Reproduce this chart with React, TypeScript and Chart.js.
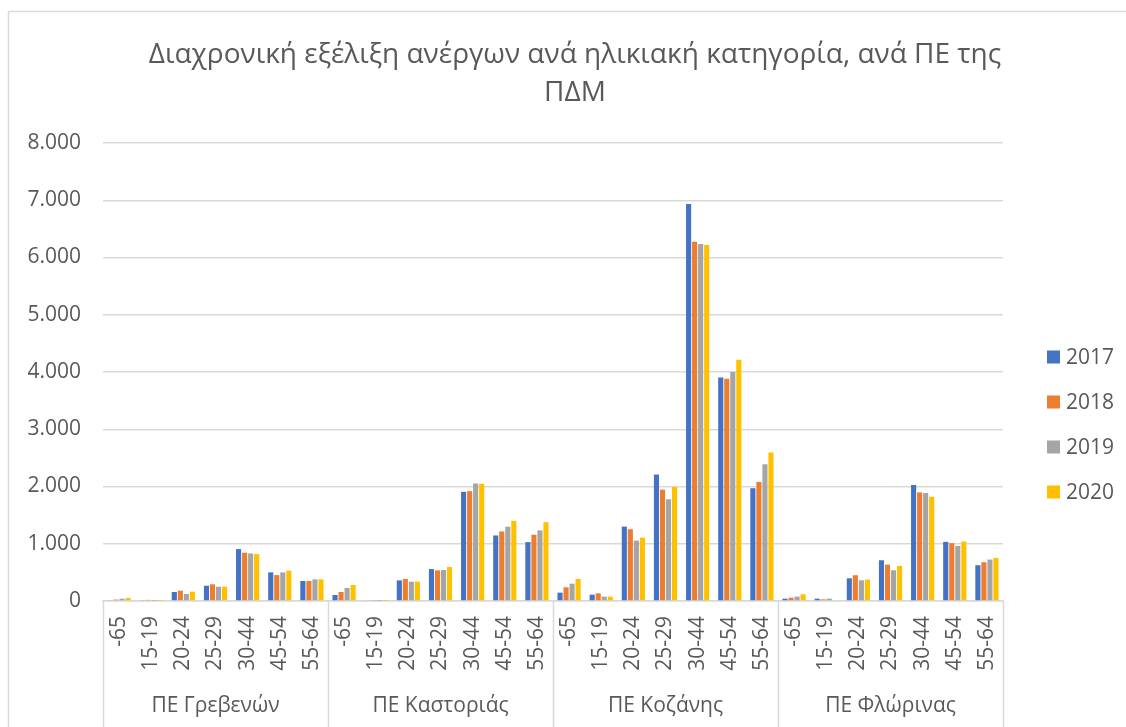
import React, { useEffect, useRef } from "react";
import { Chart, registerables } from "chart.js";

Chart.register(...registerables);

const TITLE_LINES = ["Διαχρονική εξέλιξη ανέργων ανά ηλικιακή κατηγορία, ανά ΠΕ της", "ΠΔΜ"];
const REGIONS = ["ΠΕ Γρεβενών", "ΠΕ Καστοριάς", "ΠΕ Κοζάνης", "ΠΕ Φλώρινας"];
const AGES = ["-65", "15-19", "20-24", "25-29", "30-44", "45-54", "55-64"];
const YEARS = ["2017", "2018", "2019", "2020"];
const COLORS = ["#4472C4", "#ED7D31", "#A5A5A5", "#FFC000"];

// values per year, in order: Γρεβενών, Καστοριάς, Κοζάνης, Φλώρινας (7 age groups each)
const V2017 = [
  15, 15, 157, 267, 907, 500, 349,
  105, 12, 360, 558, 1907, 1145, 1029,
  146, 111, 1300, 2209, 6935, 3904, 1970,
  41, 41, 397, 712, 2026, 1033, 625,
];
const V2018 = [
  25, 20, 180, 291, 843, 453, 349,
  157, 17, 384, 535, 1919, 1215, 1157,
  239, 134, 1253, 1946, 6276, 3881, 2080,
  58, 29, 450, 636, 1897, 1010, 677,
];
const V2019 = [
  40, 5, 122, 250, 831, 500, 378,
  227, 3, 337, 541, 2052, 1297, 1233,
  303, 76, 1055, 1777, 6235, 3998, 2389,
  76, 41, 362, 537, 1886, 963, 724,
];
const V2020 = [
  55, 5, 163, 250, 820, 529, 378,
  279, 3, 337, 593, 2047, 1401, 1378,
  385, 76, 1107, 1993, 6218, 4213, 2593,
  117, 12, 374, 613, 1821, 1039, 753,
];
const SERIES = [V2017, V2018, V2019, V2020];

const Y_MAX = 8000;
const Y_STEP = 1000;

const FONT = "'Open Sans', 'Noto Sans', sans-serif";
const TEXT = "#595959";
const GRID = "#d9d9d9";

function fmt(v: number): string {
  return String(Math.round(v)).replace(/\B(?=(\d{3})+(?!\d))/g, ".");
}

const decorPlugin = {
  id: "decor",
  afterDraw(chart: any) {
    const { ctx, chartArea } = chart;
    const x = chart.scales.x;
    const n = AGES.length;
    const total = REGIONS.length * n;
    const half = (x.getPixelForTick(1) - x.getPixelForTick(0)) / 2;
    ctx.save();
    // outer chart border (top & left)
    ctx.strokeStyle = GRID;
    ctx.lineWidth = 1.5;
    ctx.beginPath();
    ctx.moveTo(8.5, chart.height);
    ctx.lineTo(8.5, 11.5);
    ctx.lineTo(chart.width, 11.5);
    ctx.stroke();
    // group separators
    ctx.beginPath();
    for (let g = 0; g <= REGIONS.length; g++) {
      const px = g < REGIONS.length ? x.getPixelForTick(g * n) - half : x.getPixelForTick(total - 1) + half;
      const xx = Math.round(px) + 0.5;
      ctx.moveTo(xx, chartArea.bottom);
      ctx.lineTo(xx, chart.height);
    }
    ctx.stroke();
    // group labels
    ctx.fillStyle = TEXT;
    ctx.font = `21px ${FONT}`;
    ctx.textAlign = "center";
    ctx.textBaseline = "middle";
    REGIONS.forEach((r, g) => {
      const a = x.getPixelForTick(g * n) - half;
      const b = x.getPixelForTick(g * n + n - 1) + half;
      ctx.fillText(r, (a + b) / 2, 706);
    });
    // legend
    const ds = chart.data.datasets;
    ctx.textAlign = "left";
    ds.forEach((d: any, i: number) => {
      const cy = 357 + i * 45;
      ctx.fillStyle = d.backgroundColor;
      ctx.fillRect(1047, cy - 6.5, 13, 13);
      ctx.fillStyle = TEXT;
      ctx.fillText(d.label, 1066, cy + 1);
    });
    ctx.restore();
  },
};

export default function App() {
  const ref = useRef<HTMLCanvasElement | null>(null);
  useEffect(() => {
    if (!ref.current) return;
    const labels: string[] = [];
    REGIONS.forEach(() => AGES.forEach((a) => labels.push(a)));
    const chart = new Chart(ref.current, {
      type: "bar",
      data: {
        labels,
        datasets: YEARS.map((y, i) => ({
          label: y,
          data: SERIES[i],
          backgroundColor: COLORS[i],
          borderWidth: 0,
          categoryPercentage: 0.75,
          barPercentage: 0.85,
        })),
      },
      options: {
        responsive: false,
        animation: false,
        layout: { padding: { left: 24, right: 0, top: 0, bottom: 0 } },
        plugins: {
          legend: { display: false },
          tooltip: { enabled: false },
          title: {
            display: true,
            text: TITLE_LINES,
            color: TEXT,
            font: { family: FONT, size: 28, weight: "normal", lineHeight: 1.35 },
            padding: { top: 36.6, bottom: 30.8 },
          },
        },
        scales: {
          x: {
            grid: { display: false, drawTicks: false },
            border: { display: true, color: GRID, width: 1.5 },
            ticks: {
              autoSkip: false,
              maxRotation: 90,
              minRotation: 90,
              padding: 15,
              color: TEXT,
              font: { family: FONT, size: 21 },
            },
            afterFit: (s: any) => {
              s.height = 126;
            },
          },
          y: {
            min: 0,
            max: Y_MAX,
            grid: { color: GRID, lineWidth: 1.5, drawTicks: false },
            border: { display: false },
            ticks: {
              stepSize: Y_STEP,
              padding: 22,
              color: TEXT,
              font: { family: FONT, size: 21 },
              callback: (v: any) => fmt(Number(v)),
            },
            afterFit: (s: any) => {
              s.width = 79;
            },
          },
          yRight: {
            position: "right",
            min: 0,
            max: Y_MAX,
            grid: { display: false, drawTicks: false },
            border: { display: false },
            ticks: { display: false },
            afterFit: (s: any) => {
              s.width = 123;
            },
          },
        },
      },
      plugins: [decorPlugin],
    });
    return () => chart.destroy();
  }, []);
  return (
    <div style={{ position: "absolute", left: 0, top: 0, width: 1126, height: 727, background: "#fff" }}>
      <canvas ref={ref} width={1126} height={727} style={{ display: "block" }} />
    </div>
  );
}
